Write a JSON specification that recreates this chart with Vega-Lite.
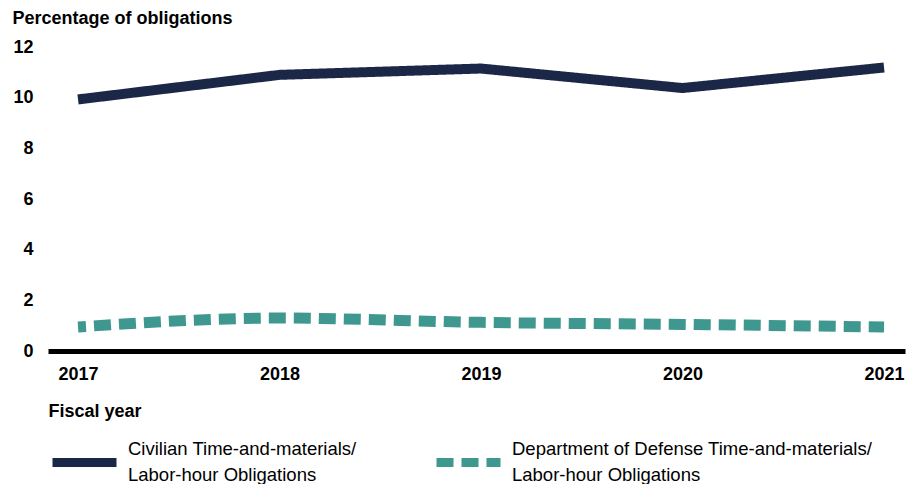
{
  "$schema": "https://vega.github.io/schema/vega-lite/v6.json",
  "width": 857,
  "height": 304,
  "autosize": {"type": "none"},
  "padding": {"left": 48, "top": 47, "right": 9, "bottom": 133},
  "background": "white",
  "config": {
    "view": {"stroke": null},
    "font": "Liberation Sans",
    "style": {"guide-label": {"lineHeight": 26}}
  },
  "data": {
    "values": [
      {"year": 2017, "series": "Civilian Time-and-materials/|Labor-hour Obligations", "value": 9.93},
      {"year": 2018, "series": "Civilian Time-and-materials/|Labor-hour Obligations", "value": 10.9},
      {"year": 2019, "series": "Civilian Time-and-materials/|Labor-hour Obligations", "value": 11.15},
      {"year": 2020, "series": "Civilian Time-and-materials/|Labor-hour Obligations", "value": 10.38},
      {"year": 2021, "series": "Civilian Time-and-materials/|Labor-hour Obligations", "value": 11.19},
      {"year": 2017, "series": "Department of Defense Time-and-materials/|Labor-hour Obligations", "value": 0.95},
      {"year": 2018, "series": "Department of Defense Time-and-materials/|Labor-hour Obligations", "value": 1.3},
      {"year": 2019, "series": "Department of Defense Time-and-materials/|Labor-hour Obligations", "value": 1.13},
      {"year": 2020, "series": "Department of Defense Time-and-materials/|Labor-hour Obligations", "value": 1.05},
      {"year": 2021, "series": "Department of Defense Time-and-materials/|Labor-hour Obligations", "value": 0.95}
    ]
  },
  "encoding": {
    "x": {
      "field": "year",
      "type": "quantitative",
      "scale": {"domain": [2016.851, 2021.104], "nice": false, "zero": false},
      "axis": {
        "values": [2017, 2018, 2019, 2020, 2021],
        "format": "d",
        "grid": false,
        "ticks": false,
        "domainColor": "black",
        "domainWidth": 5,
        "labelFont": "Liberation Sans",
        "labelFontWeight": "bold",
        "labelFontSize": 18,
        "labelColor": "black",
        "labelPadding": 14,
        "labelFlush": false,
        "title": "Fiscal year",
        "titleFont": "Liberation Sans",
        "titleFontWeight": "bold",
        "titleFontSize": 18,
        "titleColor": "black",
        "titleAlign": "left",
        "titleAnchor": "start",
        "titleBaseline": "middle",
        "titleX": 0,
        "titleY": 60
      }
    },
    "y": {
      "field": "value",
      "type": "quantitative",
      "scale": {"domain": [0, 12], "nice": false},
      "axis": {
        "values": [0, 2, 4, 6, 8, 10, 12],
        "grid": false,
        "ticks": false,
        "domain": false,
        "labelFont": "Liberation Sans",
        "labelFontWeight": "bold",
        "labelFontSize": 18,
        "labelColor": "black",
        "labelPadding": 15,
        "title": "Percentage of obligations",
        "titleFont": "Liberation Sans",
        "titleFontWeight": "bold",
        "titleFontSize": 18,
        "titleColor": "black",
        "titleAngle": 0,
        "titleAlign": "left",
        "titleBaseline": "middle",
        "titleX": -36,
        "titleY": -29
      }
    },
    "color": {
      "field": "series",
      "type": "nominal",
      "scale": {
        "domain": ["Civilian Time-and-materials/|Labor-hour Obligations", "Department of Defense Time-and-materials/|Labor-hour Obligations"],
        "range": ["#1b2747", "#3f988f"]
      },
      "legend": {
        "title": null,
        "orient": "none",
        "direction": "horizontal",
        "legendX": 0,
        "legendY": 379,
        "symbolType": "stroke",
        "symbolSize": 4096,
        "symbolStrokeWidth": 9,
        "labelExpr": "split(datum.label, '|')",
        "labelFont": "Liberation Sans",
        "labelFontSize": 18.5,
        "labelColor": "black",
        "labelBaseline": "line-bottom",
        "labelOffset": 7,
        "labelLimit": 500,
        "columnPadding": 61
      }
    },
    "strokeDash": {
      "field": "series",
      "type": "nominal",
      "scale": {
        "domain": ["Civilian Time-and-materials/|Labor-hour Obligations", "Department of Defense Time-and-materials/|Labor-hour Obligations"],
        "range": [[1, 0], [17, 8]]
      },
      "legend": null
    }
  },
  "layer": [
    {
      "transform": [{"filter": "datum.series == 'Civilian Time-and-materials/|Labor-hour Obligations'"}],
      "mark": {"type": "line", "strokeWidth": 10, "interpolate": "linear"}
    },
    {
      "transform": [{"filter": "datum.series == 'Department of Defense Time-and-materials/|Labor-hour Obligations'"}],
      "mark": {"type": "line", "strokeWidth": 11, "interpolate": "monotone", "strokeDashOffset": 9}
    }
  ]
}
